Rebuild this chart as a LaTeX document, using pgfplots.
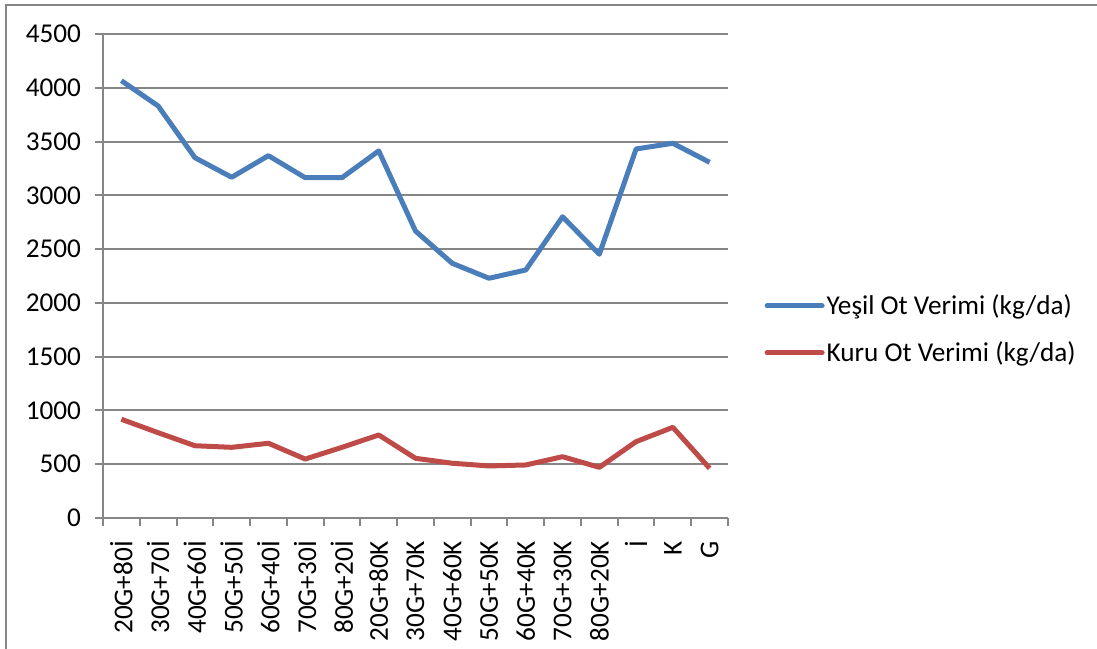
\documentclass[border=0pt]{standalone}
\usepackage{fontspec}
\setmainfont{Carlito}
\usepackage{pgfplots}
\usepackage{pgfplotstable}
\pgfplotsset{compat=1.18}

\definecolor{yesil}{HTML}{4A7EBB}
\definecolor{kuru}{HTML}{BE4B48}
\definecolor{gridgray}{HTML}{868686}

% Columns: position, green yield, dry yield (kg/da)
\pgfplotstableread{
x  yesil  kuru
0  4066   918
1  3831   793
2  3350   672
3  3168   657
4  3369   695
5  3164   548
6  3164   657
7  3413   772
8  2668   555
9  2368   509
10 2229   484
11 2306   493
12 2801   570
13 2452   471
14 3431   710
15 3484   843
16 3307   462
}\verim

\newcommand{\lblfont}{\fontsize{13.6}{16}\selectfont}

\begin{document}
\begin{tikzpicture}
\useasboundingbox (-51.5pt,-65pt) rectangle (497pt,259pt);
\draw[gridgray, line width=1pt] (-48.5pt,-80pt) -- (-48.5pt,256.5pt) -- (520pt,256.5pt);
\begin{axis}[
  at={(0,0)}, anchor=south west,
  scale only axis,
  width=312.5pt, height=242pt,
  xmin=-0.5, xmax=16.5,
  ymin=0, ymax=4500,
  ytick={0,500,...,4500},
  xtick={0,...,16},
  xticklabels={20G+80İ,30G+70İ,40G+60İ,50G+50İ,60G+40İ,70G+30İ,80G+20İ,20G+80K,30G+70K,40G+60K,50G+50K,60G+40K,70G+30K,80G+20K,İ,K,G},
  minor xtick={-0.5,0.5,...,16.5},
  axis x line*=bottom,
  axis y line*=left,
  axis line style={gridgray, line width=1pt, -},
  tick style={gridgray, line width=1pt},
  tick align=outside,
  xtick style={draw=none},
  minor x tick style={draw=gridgray, line width=1pt},
  minor tick length=4pt,
  major tick length=4pt,
  ymajorgrids,
  major grid style={gridgray, line width=1pt},
  /pgf/number format/assume math mode=true,
  /pgf/number format/1000 sep={},
  yticklabel style={font=\lblfont, xshift=-3.5pt},
  xticklabel style={font=\lblfont, rotate=90, anchor=east, xshift=-4pt},
  clip=false,
  legend cell align=left,
  legend style={draw=none, fill=none, font=\lblfont,
    at={(1.058,0.39)}, anchor=west, inner sep=0pt,
    row sep=8pt,
    nodes={inner xsep=1pt}},
  legend image code/.code={\draw[#1, line width=2.5pt, line cap=round] (0,0) -- (27.5pt,0);},
]
\addplot[yesil, line width=2.5pt, line join=round] table[x=x, y=yesil] {\verim};
\addlegendentry{Yeşil Ot Verimi (kg/da)}
\addplot[kuru, line width=2.5pt, line join=round] table[x=x, y=kuru] {\verim};
\addlegendentry{Kuru Ot Verimi (kg/da)}
\end{axis}
\end{tikzpicture}
\end{document}
